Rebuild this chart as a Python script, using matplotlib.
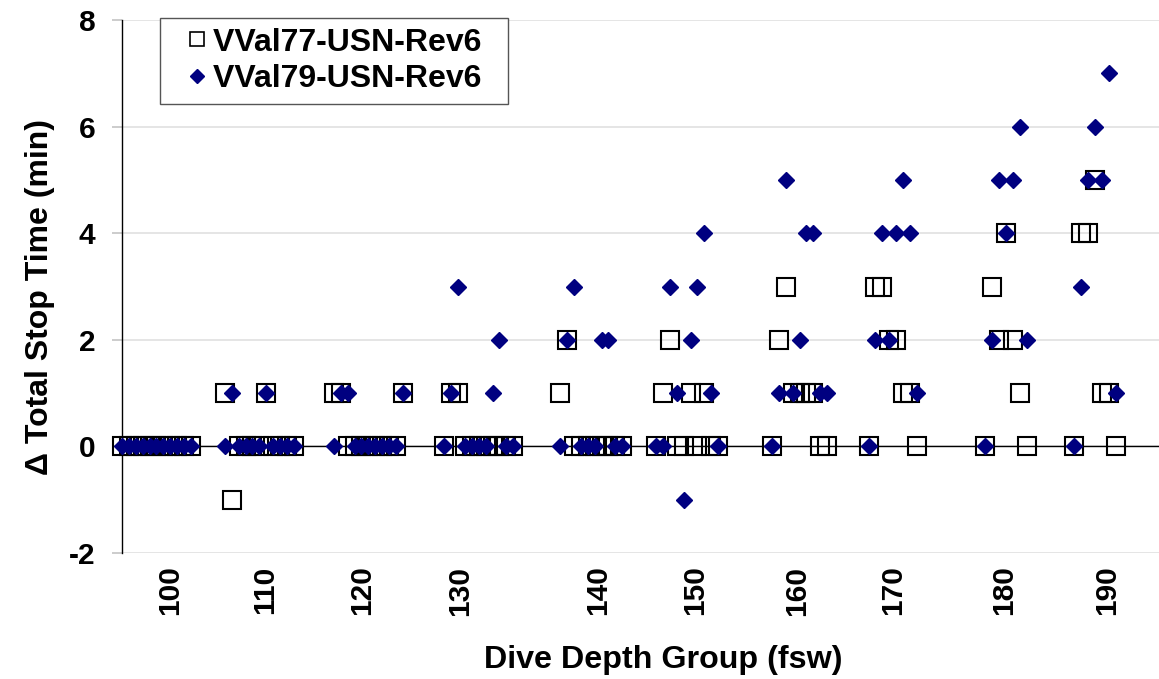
import matplotlib
matplotlib.use("Agg")
import matplotlib.pyplot as plt
from matplotlib.lines import Line2D
import numpy as np

plt.rcParams['font.family'] = ['Liberation Sans', 'DejaVu Sans']
plt.rcParams['font.weight'] = 'bold'
plt.rcParams['axes.unicode_minus'] = False

# depth groups, profile sequence position of the first profile in each group
depth_groups = [100, 110, 120, 130, 140, 150, 160, 170, 180, 190]
group_start = [0.0, 14.9, 30.7, 46.7, 63.5, 77.4, 94.2, 108.2, 125.1, 138.0]

# delta total stop time (min) per profile, one list per depth group
vval77 = [
    [0, 0, 0, 0, 0, 0, 0, 0, 0, 0, 0],
    [1, -1, 0, 0, 0, 0, 1, 0, 0, 0, 0],
    [1, 1, 0, 0, 0, 0, 0, 0, 0, 0, 1],
    [0, 1, 1, 0, 0, 0, 0, 0, 0, 0, 0],
    [1, 2, 0, 0, 0, 0, 0, 0, 0, 0],
    [0, 1, 2, 0, 0, 1, 0, 1, 0, 0],
    [0, 2, 3, 1, 1, 1, 1, 0, 0],
    [0, 3, 3, 2, 2, 1, 1, 0],
    [0, 3, 2, 4, 2, 1, 0],
    [0, 4, 4, 5, 1, 1, 0],
]
vval79 = [
    [0, 0, 0, 0, 0, 0, 0, 0, 0, 0, 0],
    [0, 1, 0, 0, 0, 0, 1, 0, 0, 0, 0],
    [0, 1, 1, 0, 0, 0, 0, 0, 0, 0, 1],
    [0, 1, 3, 0, 0, 0, 0, 1, 2, 0, 0],
    [0, 2, 3, 0, 0, 0, 2, 2, 0, 0],
    [0, 0, 3, 1, -1, 2, 3, 4, 1, 0],
    [0, 1, 5, 1, 2, 4, 4, 1, 1],
    [0, 2, 4, 2, 4, 5, 4, 1],
    [0, 2, 5, 4, 5, 6, 2],
    [0, 3, 5, 6, 5, 7, 1],
]

# where the group labels sit along the axis
tick_pos = [7.0, 20.7, 34.8, 49.0, 69.0, 83.0, 97.8, 111.7, 127.8, 142.8]
tick_labels = [str(d) for d in depth_groups]

x = []
y77 = []
y79 = []
for start, a, b in zip(group_start, vval77, vval79):
    x.extend(start + np.arange(len(a)))
    y77.extend(a)
    y79.extend(b)

W, H = 1159, 679
fig = plt.figure(figsize=(W / 100, H / 100), dpi=100)
ax = fig.add_axes([122 / W, 126 / H, (W - 122) / W, 533 / H])

ax.plot(x, y77, ls='none', marker='s', ms=13, mfc='none', mec='black',
        mew=1.5, clip_on=False, zorder=3)
ax.plot(x, y79, ls='none', marker='D', ms=8.3, color='#000080',
        clip_on=False, zorder=4)

ax.axhline(0, color='black', lw=1.0, zorder=2)
ax.set_xlim(0, 150.3)
ax.set_ylim(-2, 8)
ax.set_yticks([-2, 0, 2, 4, 6, 8])
ax.yaxis.grid(True, color='#e3e3e3', lw=1.3)
ax.set_axisbelow(True)

for s in ['top', 'right', 'bottom']:
    ax.spines[s].set_visible(False)
ax.spines['left'].set_color('black')
ax.spines['left'].set_linewidth(1.0)

ax.set_xticks(tick_pos)
ax.set_xticklabels(tick_labels, rotation=90, fontsize=21.5, fontweight='bold')
ax.tick_params(axis='x', length=0, pad=9)
ax.tick_params(axis='y', length=7, color='#c8c8c8', width=1.3, pad=12,
               labelsize=21.5)

fig.text(663 / W, 1 - 660 / H, 'Dive Depth Group (fsw)', ha='center',
         va='center', fontsize=23.2, fontweight='bold')
fig.text(40 / W, 1 - 297 / H, '\u0394 Total Stop Time (min)', ha='center',
         va='center', rotation=90, fontsize=23, fontweight='bold')

handles = [
    Line2D([], [], ls='none', marker='s', ms=10, mfc='none', mec='black', mew=1.2),
    Line2D([], [], ls='none', marker='D', ms=7, color='#000080'),
]
leg = fig.legend(handles, ['VVal77-USN-Rev6  ', 'VVal79-USN-Rev6  '],
                 loc='upper left', bbox_to_anchor=(160 / W, 1 - 18 / H),
                 prop={'size': 23, 'weight': 'bold'}, frameon=True,
                 fancybox=False, framealpha=1, edgecolor='#555555',
                 borderpad=0.3, handlelength=1.7, handletextpad=-0.35,
                 labelspacing=0.2, borderaxespad=0)
leg.get_frame().set_linewidth(1.0)

fig.savefig('out.png', dpi=100)
